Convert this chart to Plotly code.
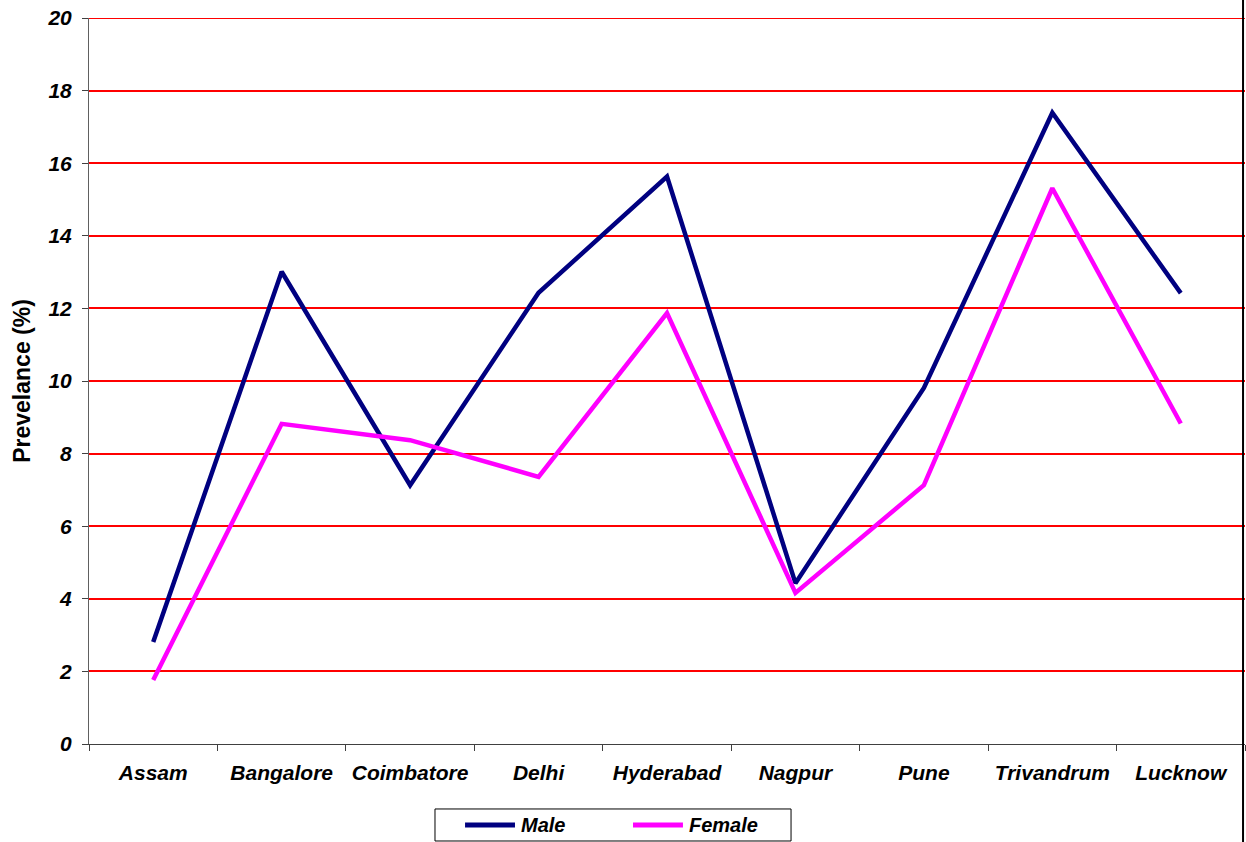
import plotly.graph_objects as go

# Prevalence by city and sex
cities = ["Assam", "Bangalore", "Coimbatore", "Delhi", "Hyderabad",
          "Nagpur", "Pune", "Trivandrum", "Lucknow"]
male = [2.81, 13.01, 7.13, 12.43, 15.63, 4.43, 9.81, 17.39, 12.42]
female = [1.76, 8.82, 8.37, 7.36, 11.87, 4.16, 7.13, 15.31, 8.83]
y_ticks = [0, 2, 4, 6, 8, 10, 12, 14, 16, 18, 20]

FONT = "Arial, Liberation Sans, sans-serif"
series = [("Male", male, "#000080"), ("Female", female, "#FF00FF")]

fig = go.Figure()
for name, vals, color in series:
    fig.add_trace(go.Scatter(x=cities, y=vals, name=name, mode="lines",
                             line=dict(color=color, width=4.5)))

fig.update_layout(
    width=1246, height=842,
    margin=dict(l=89, r=1, t=18, b=98, autoexpand=False),
    paper_bgcolor="white", plot_bgcolor="white",
    font=dict(family=FONT, color="black"),
    showlegend=False,
    xaxis=dict(
        type="category", tickson="boundaries",
        ticks="outside", ticklen=6, tickcolor="#404040", tickwidth=1,
        showline=True, linecolor="#404040", linewidth=1,
        showgrid=False, zeroline=False,
        tickfont=dict(family=FONT, size=21, weight="bold", style="italic"),
        ticklabelstandoff=10,
        range=[-0.5, 8.5],
    ),
    yaxis=dict(
        range=[0, 20], tickvals=y_ticks,
        ticks="outside", ticklen=6, tickcolor="#404040", tickwidth=1,
        showline=True, linecolor="#606060", linewidth=1,
        showgrid=True, gridcolor="#FF0000", gridwidth=2,
        zeroline=False,
        tickfont=dict(family=FONT, size=21, weight="bold", style="italic"),
        ticklabelstandoff=6,
        title=dict(text="Prevelance (%)",
                   font=dict(family=FONT, size=23, weight="bold"),
                   standoff=10),
    ),
)

# top gridline at the range maximum
fig.add_shape(type="line", xref="paper", yref="y", x0=0, x1=1, y0=20, y1=20,
              line=dict(color="#FF0000", width=2), layer="below")

# frame edge on the right side of the chart
fig.add_shape(type="line", xref="paper", yref="paper",
              x0=0.9983, x1=0.9983, y0=-0.14, y1=1.03,
              line=dict(color="black", width=2))

# boxed legend under the axis
fig.add_shape(type="rect", xref="paper", yref="paper",
              x0=0.2993, x1=0.6073, y0=-0.1336, y1=-0.0895,
              line=dict(color="black", width=1), fillcolor="white")
legend_y = -0.1116
legend_x = [0.3253, 0.4706]
for (name, _, color), lx in zip(series, legend_x):
    fig.add_shape(type="line", xref="paper", yref="paper",
                  x0=lx, x1=lx + 0.0432, y0=legend_y, y1=legend_y,
                  line=dict(color=color, width=5))
    fig.add_annotation(xref="paper", yref="paper", x=lx + 0.0465, y=legend_y,
                       text=name, showarrow=False, xanchor="left",
                       yanchor="middle",
                       font=dict(family=FONT, size=20, weight="bold",
                                 style="italic"))

fig.write_html("out.html")
